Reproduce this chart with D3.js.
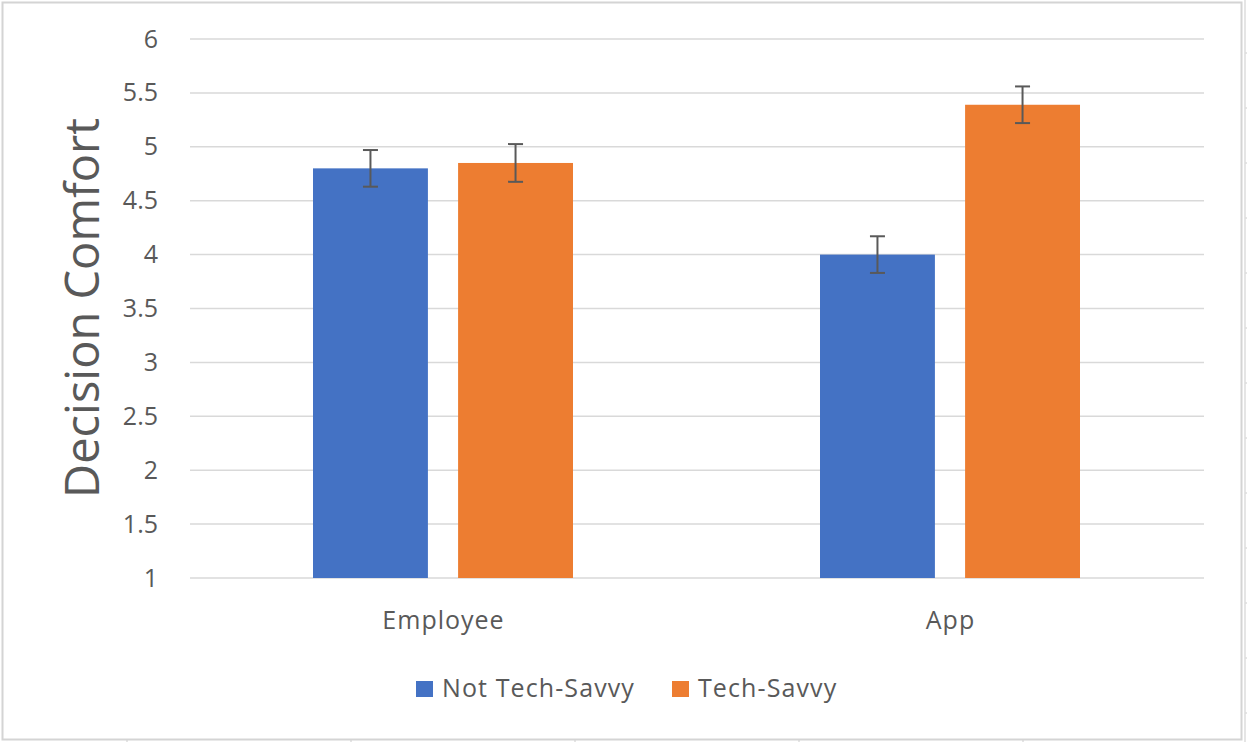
<!DOCTYPE html>
<html>
<head>
<meta charset="utf-8">
<script src="https://cdn.jsdelivr.net/npm/d3@7"></script>
<style>
  body { margin: 0; background: #fff; }
  text { font-family: "Open Sans", sans-serif; fill: #595959; }
</style>
</head>
<body>
<script>
'use strict';

// chart data
const categories = ["Employee", "App"];
const seriesNames = ["Not Tech-Savvy", "Tech-Savvy"];
const notTechSavvy = [4.80, 4.00];
const techSavvy = [4.85, 5.39];
const notTechSavvyErr = [0.17, 0.17];
const techSavvyErr = [0.175, 0.17];
const yTicks = [1, 1.5, 2, 2.5, 3, 3.5, 4, 4.5, 5, 5.5, 6];
const colors = { "Not Tech-Savvy": "#4472C4", "Tech-Savvy": "#ED7D31" };

const width = 1247, height = 742;
const svg = d3.select("body").append("svg")
    .attr("width", width)
    .attr("height", height);

// sheet cell lines peeking out behind the chart
let sheet = svg.append("g").attr("stroke", "#dcdcdc").attr("stroke-width", 1.5);
sheet.append("line").attr("x1", 1245).attr("x2", 1245).attr("y1", 0).attr("y2", height);
d3.range(53, height, 55).forEach(function(y) {
    sheet.append("line").attr("x1", 1245).attr("x2", width).attr("y1", y).attr("y2", y);
});
d3.range(127, width, 224).forEach(function(x) {
    sheet.append("line").attr("x1", x).attr("x2", x).attr("y1", 740).attr("y2", height);
});

// chart area border
svg.append("rect")
    .attr("x", 2.5).attr("y", 2.5)
    .attr("width", 1239).attr("height", 737)
    .attr("fill", "#fff")
    .attr("stroke", "#d4d4d4")
    .attr("stroke-width", 2);

const plot = { left: 190, right: 1204, top: 39, bottom: 578 };

let yScale = d3.scaleLinear()
    .domain([1, 6])
    .range([plot.bottom, plot.top]);

let x0 = d3.scaleBand()
    .domain(categories)
    .range([plot.left, plot.right])
    .padding(0);

let x1 = d3.scaleBand()
    .domain(seriesNames)
    .range([123, x0.bandwidth() - 124])
    .paddingInner(0.208);

// gridlines
svg.append("g")
    .selectAll("line")
    .data(yTicks)
    .enter()
    .append("line")
        .attr("x1", plot.left)
        .attr("x2", plot.right)
        .attr("y1", d => yScale(d))
        .attr("y2", d => yScale(d))
        .attr("stroke", "#d9d9d9")
        .attr("stroke-width", 1.5);

// y axis labels
let yAxis = d3.axisLeft(yScale)
    .tickValues(yTicks)
    .tickFormat(d3.format("~g"))
    .tickSize(0)
    .tickPadding(0);
let yAxisG = svg.append("g")
    .attr("transform", "translate(158,0)")
    .call(yAxis);
yAxisG.select(".domain").remove();
yAxisG.selectAll("text")
    .attr("font-size", "25px")
    .style("font-family", "'Open Sans', sans-serif")
    .attr("fill", "#595959");

// x axis labels
let xAxis = d3.axisBottom(x0).tickSize(0).tickPadding(0);
let xAxisG = svg.append("g")
    .attr("transform", "translate(0,611)")
    .call(xAxis);
xAxisG.select(".domain").remove();
xAxisG.selectAll("text")
    .attr("font-size", "25px")
    .attr("letter-spacing", "1px")
    .style("font-family", "'Open Sans', sans-serif")
    .attr("fill", "#595959");

// y axis title
svg.append("text")
    .attr("transform", "translate(99,308) rotate(-90)")
    .attr("text-anchor", "middle")
    .attr("font-size", "47px")
    .text("Decision Comfort");

// build rows for bars
let rows = [];
categories.forEach(function(c, i) {
    rows.push({ cat: c, series: seriesNames[0], value: notTechSavvy[i], err: notTechSavvyErr[i] });
    rows.push({ cat: c, series: seriesNames[1], value: techSavvy[i], err: techSavvyErr[i] });
});

svg.append("g")
    .selectAll("rect")
    .data(rows)
    .enter()
    .append("rect")
        .attr("x", d => x0(d.cat) + x1(d.series))
        .attr("y", d => yScale(d.value))
        .attr("width", x1.bandwidth())
        .attr("height", d => yScale(1) - yScale(d.value))
        .attr("fill", d => colors[d.series]);

// error bars
let errG = svg.append("g")
    .attr("stroke", "#595959")
    .attr("stroke-width", 2);
let cx = d => x0(d.cat) + x1(d.series) + x1.bandwidth() / 2;
errG.selectAll(".stem")
    .data(rows)
    .enter()
    .append("line")
        .attr("x1", cx).attr("x2", cx)
        .attr("y1", d => yScale(d.value + d.err))
        .attr("y2", d => yScale(d.value - d.err));
errG.selectAll(".capTop")
    .data(rows)
    .enter()
    .append("line")
        .attr("x1", d => cx(d) - 7.5).attr("x2", d => cx(d) + 7.5)
        .attr("y1", d => yScale(d.value + d.err))
        .attr("y2", d => yScale(d.value + d.err));
errG.selectAll(".capBottom")
    .data(rows)
    .enter()
    .append("line")
        .attr("x1", d => cx(d) - 7.5).attr("x2", d => cx(d) + 7.5)
        .attr("y1", d => yScale(d.value - d.err))
        .attr("y2", d => yScale(d.value - d.err));

// legend
let legendX = [416, 672];
let legend = svg.append("g");
seriesNames.forEach(function(name, i) {
    legend.append("rect")
        .attr("x", legendX[i])
        .attr("y", 681)
        .attr("width", 17)
        .attr("height", 16)
        .attr("fill", colors[name]);
    legend.append("text")
        .attr("x", legendX[i] + 26)
        .attr("y", 697)
        .attr("font-size", "25px")
        .attr("letter-spacing", "1.1px")
        .text(name);
});
</script>
</body>
</html>
